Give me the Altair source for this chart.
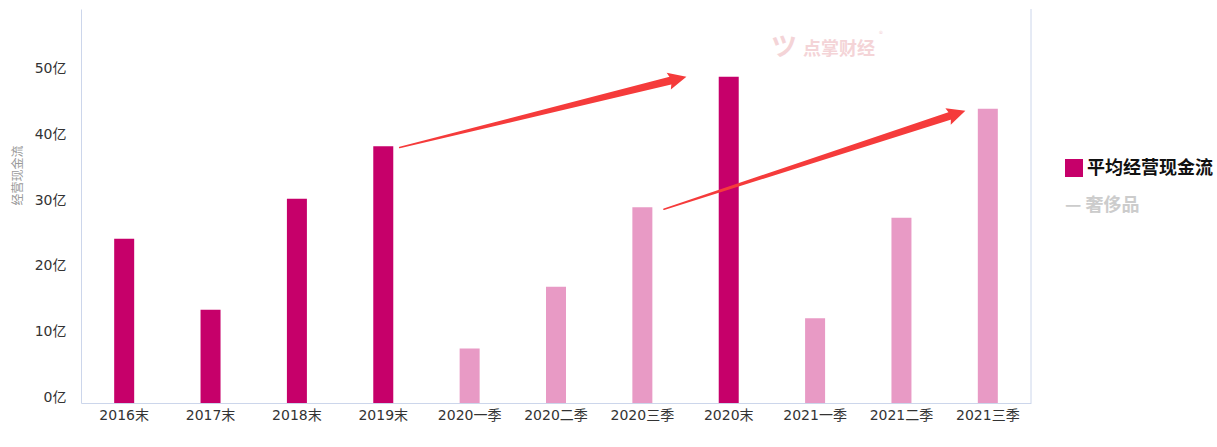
import altair as alt
import pandas as pd

# ---- data ----
categories = ["2016末", "2017末", "2018末", "2019末", "2020一季", "2020二季",
              "2020三季", "2020末", "2021一季", "2021二季", "2021三季"]
values = [25.0, 14.2, 31.1, 39.1, 8.3, 17.7, 29.8, 49.7, 12.9, 28.2, 44.8]
kinds = ["年末", "年末", "年末", "年末", "季度", "季度", "季度", "年末", "季度", "季度", "季度"]
y_ticks = [0, 10, 20, 30, 40, 50]

# annotation arrows (category index, value): shaft start/end and head tips
arrow_id = ["a1", "a1", "a2", "a2"]
shaft_x = [3.19, 6.36, 6.25, 9.60]
shaft_y = [38.9, 49.2, 29.5, 43.9]
shaft_w = [1.5, 8.0, 1.5, 8.0]
tip_x = [6.51, 9.74]
tip_y = [49.7, 44.5]
head_angle = [346, 342]

DARK = "#C6006A"
LIGHT = "#E89AC5"
RED = "#F53B3B"
AXIS = "#CCD6EB"
FONT = "Noto Sans CJK SC"
TICKFONT = "DejaVu Sans, Noto Sans CJK SC"

W, H = 950, 394

bars_df = pd.DataFrame({"cat": categories, "val": values, "kind": kinds})
trail_df = pd.DataFrame({"arrow": arrow_id, "val": shaft_y, "xi": shaft_x, "w": shaft_w})
head_df = pd.DataFrame({"xi": tip_x, "val": tip_y, "ang": head_angle})

yscale = alt.Scale(domain=[0, 60], nice=False)
yaxis = alt.Axis(values=y_ticks, labelExpr="datum.value + '亿'", ticks=False,
                 domainColor=AXIS, labelColor="#333", labelFontSize=14,
                 labelFont=TICKFONT, labelPadding=15, labelOffset=-6, grid=False,
                 titleFont=FONT, titleFontSize=12, titleColor="#999",
                 titleFontWeight="normal", titleX=-64, titleY=166,
                 titleAlign="center", titleBaseline="middle")
yenc = alt.Y("val:Q", scale=yscale, title="经营现金流", axis=yaxis)

bars = alt.Chart(bars_df).mark_bar(size=20).encode(
    x=alt.X("cat:N", sort=categories, title=None,
            scale=alt.Scale(paddingInner=0, paddingOuter=0),
            axis=alt.Axis(labelAngle=0, ticks=False, domainColor=AXIS, labelColor="#333",
                          labelFontSize=14, labelFont=TICKFONT, labelPadding=5, grid=False)),
    y=yenc,
    color=alt.Color("kind:N", scale=alt.Scale(domain=["年末", "季度"], range=[DARK, LIGHT]),
                    legend=None),
)

xq = alt.X("xi:Q", scale=alt.Scale(domain=[-0.5, 10.5], nice=False, zero=False), axis=None)

trail = alt.Chart(trail_df).mark_trail(color=RED).encode(
    x=xq, y=yenc, detail="arrow:N", size=alt.Size("w:Q", scale=None, legend=None),
    order="xi:Q",
)

heads = alt.Chart(head_df).mark_point(
    shape="M0,0 L-2.1,-1.0 L-1.75,0 L-2.1,1.0 Z", filled=True, color=RED, opacity=1,
    size=300, strokeWidth=0,
).encode(x=xq, y=yenc, angle=alt.Angle("ang:Q", scale=None))

right_line = alt.Chart(pd.DataFrame({"a": [0]})).mark_rule(color=AXIS).encode(
    x=alt.value(W), y=alt.value(0), y2=alt.value(H))

watermark = alt.Chart(pd.DataFrame({"t": ["点掌财经"]})).mark_text(
    font=FONT, fontSize=18, fontWeight="bold", color="#F4D4D7", align="left",
    baseline="middle").encode(text="t:N", x=alt.value(722), y=alt.value(41))
reg = alt.Chart(pd.DataFrame({"t": ["®"]})).mark_text(
    font=FONT, fontSize=8, color="#F4D4D7", align="left",
    baseline="middle").encode(text="t:N", x=alt.value(798), y=alt.value(26))
logo = alt.Chart(pd.DataFrame({"t": ["ツ"]})).mark_text(
    font=FONT, fontSize=26, fontWeight="bold", color="#F4D4D7", align="left",
    baseline="middle").encode(text="t:N", x=alt.value(690), y=alt.value(39))

leg_sq = alt.Chart(pd.DataFrame({"a": [0]})).mark_square(
    size=324, color=DARK, opacity=1).encode(x=alt.value(993), y=alt.value(159))
leg_t1 = alt.Chart(pd.DataFrame({"t": ["平均经营现金流"]})).mark_text(
    font=FONT, fontSize=18, fontWeight="bold", color="#111", align="left",
    baseline="middle").encode(text="t:N", x=alt.value(1006), y=alt.value(160))
leg_t2 = alt.Chart(pd.DataFrame({"t": ["— 奢侈品"]})).mark_text(
    font=FONT, fontSize=18, fontWeight="bold", color="#CCCCCC", align="left",
    baseline="middle").encode(text="t:N", x=alt.value(984), y=alt.value(197))

chart = alt.layer(
    bars, trail, heads, right_line, logo, watermark, reg, leg_sq, leg_t1, leg_t2
).resolve_scale(x="independent").properties(
    width=W, height=H,
    background="white",
    autosize=alt.AutoSizeParams(type="none"),
    padding={"left": 81, "top": 9, "right": 1217 - 81 - W, "bottom": 447 - 9 - H},
).configure_view(stroke="transparent", strokeWidth=0)

chart.save("out.html", embed_options={"renderer": "svg", "actions": False})
